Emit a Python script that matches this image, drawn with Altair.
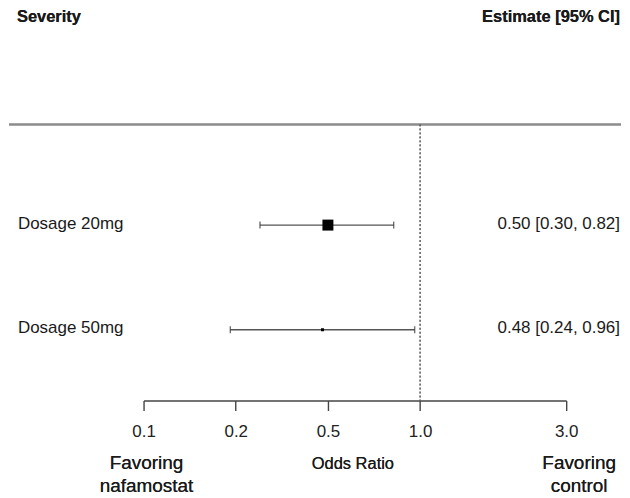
import math
import altair as alt
import pandas as pd

# ---- data ----
labels = ["Dosage 20mg", "Dosage 50mg"]
rows = [2, 1]
estimates = [0.50, 0.48]
ci_low = [0.30, 0.24]
ci_high = [0.82, 0.96]

tick_values = [0.125, 0.25, 0.5, 1.0, 3.0]
tick_labels = ["0.1", "0.2", "0.5", "1.0", "3.0"]

header_left = "Severity"
header_right = "Estimate [95% CI]"
axis_title = "Odds Ratio"
left_note = ["Favoring", "nafamostat"]
right_note = ["Favoring", "control"]
null_value = 1.0

# ---- table ----
df = pd.DataFrame({"label": labels, "row": rows, "est": estimates, "lo": ci_low, "hi": ci_high})
df["text"] = [f"{e:.2f} [{l:.2f}, {h:.2f}]" for e, l, h in zip(estimates, ci_low, ci_high)]
# inverse-variance weights (log scale) -> marker size
df["w"] = [1.0 / ((math.log(h) - math.log(l)) / 3.92) ** 2 for l, h in zip(ci_low, ci_high)]

FONT = "Liberation Sans"

label_expr = " : ".join(
    f"datum.value == {v} ? '{t}'" for v, t in zip(tick_values, tick_labels)
) + " : ''"

xscale = alt.Scale(type="log", domain=[tick_values[0], tick_values[-1]], range=[135, 559], nice=False)
xaxis = alt.Axis(
    values=tick_values, labelExpr=label_expr, title=None, grid=False, labelFlush=False,
    domainColor="#444", domainWidth=1.4, tickColor="#444", tickWidth=1.4, tickSize=10,
    labelFont=FONT, labelFontSize=17, labelColor="#222", labelPadding=13,
)
yscale = alt.Scale(domain=[1, 2], range=[322, 217], zero=False, nice=False)
Y = alt.Y("row:Q", scale=yscale, axis=None)

base = alt.Chart(df)

ci = base.mark_rule(color="#555", strokeWidth=1.3).encode(
    x=alt.X("lo:Q", scale=xscale, axis=xaxis), x2="hi:Q", y=Y
)
cap_lo = base.mark_tick(orient="vertical", size=7, thickness=1.4, color="#333").encode(
    x=alt.X("lo:Q", scale=xscale, axis=xaxis), y=Y
)
cap_hi = base.mark_tick(orient="vertical", size=7, thickness=1.4, color="#333").encode(
    x=alt.X("hi:Q", scale=xscale, axis=xaxis), y=Y
)
pts = base.mark_point(shape="square", filled=True, color="black", opacity=1).encode(
    x=alt.X("est:Q", scale=xscale, axis=xaxis), y=Y,
    size=alt.Size("w:Q", scale=alt.Scale(domain=[df["w"].min(), df["w"].max()], range=[9, 121]), legend=None),
)
null_line = alt.Chart(df).mark_rule(color="#555", strokeDash=[2, 2], strokeWidth=1).encode(
    x=alt.datum(null_value, scale=xscale, axis=xaxis), y=alt.value(116), y2=alt.value(393)
)
header_line = alt.Chart(df).mark_rule(color="#8c8c8c", strokeWidth=2).encode(
    x=alt.value(0), x2=alt.value(614), y=alt.value(116)
)
row_text = base.mark_text(align="left", baseline="middle", font=FONT, fontSize=17, color="#1a1a1a", dy=-1.5).encode(
    x=alt.value(9), y=Y, text="label:N"
)
est_text = base.mark_text(align="right", baseline="middle", font=FONT, fontSize=17, color="#1a1a1a", dy=-1.5).encode(
    x=alt.value(613), y=Y, text="text:N"
)
hdr_l = alt.Chart(df).mark_text(align="left", baseline="alphabetic", font=FONT, fontSize=16.5, fontWeight="bold", color="#1a1a1a").encode(
    x=alt.value(8), y=alt.value(13), text=alt.value(header_left)
)
hdr_r = alt.Chart(df).mark_text(align="right", baseline="alphabetic", font=FONT, fontSize=16.5, fontWeight="bold", color="#1a1a1a").encode(
    x=alt.value(613), y=alt.value(13), text=alt.value(header_right)
)
ax_title = alt.Chart(df).mark_text(align="center", baseline="alphabetic", font=FONT, fontSize=16.5, color="#1a1a1a").encode(
    x=alt.value(345), y=alt.value(462), text=alt.value(axis_title)
)
note_l = alt.Chart(df).mark_text(align="center", baseline="alphabetic", font=FONT, fontSize=19, lineHeight=23, color="#1a1a1a").encode(
    x=alt.value(138), y=alt.value(462), text=alt.value(left_note)
)
note_r = alt.Chart(df).mark_text(align="center", baseline="alphabetic", font=FONT, fontSize=19, lineHeight=23, color="#1a1a1a").encode(
    x=alt.value(572), y=alt.value(462), text=alt.value(right_note)
)

chart = alt.layer(
    header_line, null_line, ci, cap_lo, cap_hi, pts,
    row_text, est_text, hdr_l, hdr_r, ax_title, note_l, note_r,
).properties(width=614, height=393, padding=0, background="white").configure_view(strokeWidth=0)

chart.save("out.html", embed_options={"renderer": "svg", "actions": False})
